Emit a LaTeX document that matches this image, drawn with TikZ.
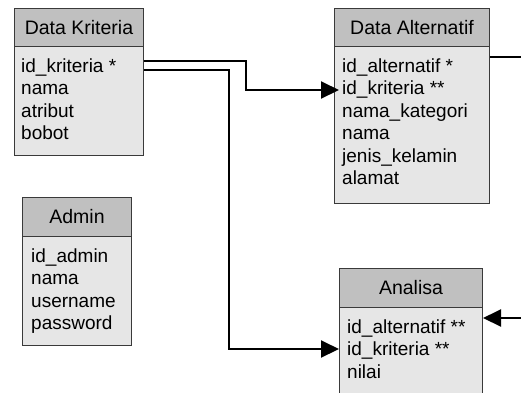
\documentclass[tikz,border=0pt]{standalone}
\usepackage{fontspec}
\setmainfont{Liberation Sans}
\usetikzlibrary{arrows.meta}
\definecolor{boxline}{HTML}{3A3A3A}
\definecolor{hdrfill}{HTML}{C0C0C0}
\definecolor{bodyfill}{HTML}{E6E6E6}
\begin{document}
\begin{tikzpicture}[x=1pt,y=-1pt,
  hdr/.style={draw=boxline, fill=hdrfill, line width=1pt, inner sep=0pt, anchor=north west,
              font=\fontsize{19.5}{23}\selectfont},
  bodybox/.style={draw=boxline, fill=bodyfill, line width=1pt, inner sep=0pt, anchor=north west},
  rowtxt/.style={anchor=base west, inner sep=0pt, font=\fontsize{19}{22.5}\selectfont},
  conn/.style={line width=2pt, black},
  tip/.style={-{Triangle[length=18pt,width=17pt]}}
]
\clip (0,0) rectangle (521,392);
\fill[white] (0,0) rectangle (521,392);

% Data Kriteria
\node[bodybox, minimum width=129pt, minimum height=109pt] (dk) at (14,46) {};
\node[hdr, minimum width=129pt, minimum height=38pt] (dkh) at (14,8) {Data Kriteria};
\foreach \t [count=\i] in {id\_kriteria *, nama, atribut, bobot}
  \node[rowtxt] (dkr\i) at (21,{72+22.5*(\i-1)}) {\t};

% Data Alternatif
\node[bodybox, minimum width=155pt, minimum height=157pt] (da) at (334,46) {};
\node[hdr, minimum width=155pt, minimum height=38pt] (dah) at (334,8) {Data Alternatif};
\foreach \t [count=\i] in {id\_alternatif *, id\_kriteria **, nama\_kategori, nama, jenis\_kelamin, alamat}
  \node[rowtxt] (dar\i) at (342,{72+22.5*(\i-1)}) {\t};

% Admin
\node[bodybox, minimum width=109pt, minimum height=109pt] (ad) at (22,236) {};
\node[hdr, minimum width=109pt, minimum height=39pt] (adh) at (22,197) {Admin};
\foreach \t [count=\i] in {id\_admin, nama, username, password}
  \node[rowtxt] (adr\i) at (31,{262+22.5*(\i-1)}) {\t};

% Analisa
\node[bodybox, minimum width=143pt, minimum height=100pt] (an) at (339,307) {};
\node[hdr, minimum width=143pt, minimum height=39pt] (anh) at (339,268) {Analisa};
\foreach \t [count=\i] in {id\_alternatif **, id\_kriteria **, nilai}
  \node[rowtxt] (anr\i) at (347,{333+22.5*(\i-1)}) {\t};

% free ends at the picture's right edge
\coordinate (edgeA) at (521,57);
\coordinate (edgeB) at (521,318);

% connectors
\draw[conn, tip] ([yshift=-15pt]dk.north east) -- ++(102,0) |- ([xshift=5pt,yshift=-44pt]da.north west);
\draw[conn, tip] ([yshift=-24pt]dk.north east) -- ++(85,0) |- ([yshift=-42pt]an.north west);
\draw[conn] ([yshift=-11pt]da.north east) -- (edgeA);
\draw[conn, tip] (edgeB) -- ([yshift=-11pt]an.north east);
\end{tikzpicture}
\end{document}
